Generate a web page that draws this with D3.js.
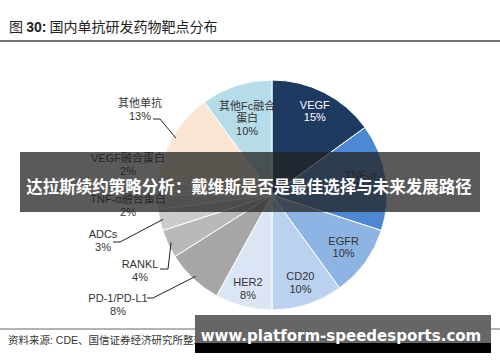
<!DOCTYPE html>
<html>
<head>
<meta charset="utf-8">
<script src="https://cdn.jsdelivr.net/npm/d3@7"></script>
<style>
  body { margin: 0; background: #fff; }
  svg { display: block; font-family: "Liberation Sans", "Noto Sans CJK SC", sans-serif; }
</style>
</head>
<body>
<div id="chart"></div>
<script>
var categories = ["VEGF", "TNF-α", "EGFR", "CD20", "HER2", "PD-1/PD-L1", "RANKL", "ADCs",
                  "TNF-α融合蛋白", "VEGF融合蛋白", "其他单抗", "其他Fc融合蛋白"];
var values = [15, 15, 10, 10, 8, 8, 4, 3, 2, 2, 13, 10];
var colors = ["#1f3a60", "#4f88d2", "#8eb4e3", "#bad1ef", "#dbe5f4", "#a6a6a6", "#b9b9b9", "#cbcbcb",
              "#d9d9d9", "#e5e5e5", "#fde5d3", "#b5dce8"];

var width = 500, height = 362;
var cx = 272, cy = 195, radius = 115;

// labels inside the pie: radius factor for each slice
var insideLabels = {
  "VEGF": { r: 0.82, lines: ["VEGF"] },
  "TNF-α": { r: 0.78, lines: ["TNF-α"] },
  "EGFR": { r: 0.77, lines: ["EGFR"] },
  "CD20": { r: 0.8, lines: ["CD20"] },
  "HER2": { r: 0.84, lines: ["HER2"] },
  "其他Fc融合蛋白": { r: 0.7, lines: ["其他Fc融合", "蛋白"] }
};
// labels outside the pie: text anchor relative to centre, leader start and elbow
var outsideLabels = {
  "其他单抗": { pos: [-132, -92], leader: [[-119, -76], [-112, -76]] },
  "VEGF融合蛋白": { pos: [-144, -37], leader: null },
  "TNF-α融合蛋白": { pos: [-144, 4], leader: null },
  "ADCs": { pos: [-169, 39], leader: [[-159, 47], [-152, 47]] },
  "RANKL": { pos: [-132, 69], leader: [[-112, 74], [-104, 74]] },
  "PD-1/PD-L1": { pos: [-154, 103], leader: [[-125, 103], [-119, 103]] }
};

var svg = d3.select("#chart").append("svg")
  .attr("width", width)
  .attr("height", height);

// title
var title = svg.append("text")
  .attr("x", 9)
  .attr("y", 32)
  .style("font-size", "14px")
  .attr("fill", "#222");
title.append("tspan").style("font-family", "Noto Sans CJK SC").text("图 ");
title.append("tspan").style("font-weight", "bold").text("30:");
title.append("tspan").style("font-family", "Noto Sans CJK SC").text("  国内单抗研发药物靶点分布");

svg.append("line")
  .attr("x1", 0).attr("x2", width)
  .attr("y1", 41).attr("y2", 41)
  .attr("stroke", "#444")
  .attr("stroke-width", 1.5);

var pie = d3.pie().sort(null).value(function(d) { return d; });
var arcs = pie(values);
var arc = d3.arc().innerRadius(0).outerRadius(radius);

var g = svg.append("g")
  .attr("transform", "translate(" + cx + "," + cy + ")");

g.selectAll(".slice")
  .data(arcs)
  .enter().append("path")
  .attr("class", "slice")
  .attr("d", arc)
  .attr("fill", function(d, i) { return colors[i]; })
  .attr("stroke", "#fff")
  .attr("stroke-width", 1);

function midPoint(d, r) {
  var a = (d.startAngle + d.endAngle) / 2;
  return [Math.sin(a) * r, -Math.cos(a) * r];
}

// inside labels
arcs.forEach(function(d, i) {
  var cfg = insideLabels[categories[i]];
  if (!cfg) return;
  var p = midPoint(d, radius * cfg.r);
  var lines = cfg.lines.concat([values[i] + "%"]);
  var lh = 12.5;
  var t = g.append("text")
    .attr("text-anchor", "middle")
    .style("font-size", "11px")
    .attr("fill", i < 1 ? "#fff" : "#333");
  lines.forEach(function(s, k) {
    t.append("tspan")
      .attr("x", p[0])
      .attr("y", p[1] + (k - (lines.length - 1) / 2) * lh + 4)
      .text(s);
  });
});

// outside labels with leader lines
arcs.forEach(function(d, i) {
  var cfg = outsideLabels[categories[i]];
  if (!cfg) return;
  var t = g.append("text")
    .attr("text-anchor", "middle")
    .style("font-size", "11px")
    .attr("fill", "#333");
  [categories[i], values[i] + "%"].forEach(function(s, k) {
    t.append("tspan")
      .attr("x", cfg.pos[0])
      .attr("y", cfg.pos[1] + k * 12.5 + 4)
      .text(s);
  });
  if (cfg.leader) {
    var pts = cfg.leader.concat([midPoint(d, radius * 0.97)]);
    g.append("path")
      .attr("d", d3.line()(pts))
      .attr("fill", "none")
      .attr("stroke", "#222")
      .attr("stroke-width", 1);
  }
});

// footer
svg.append("line")
  .attr("x1", 0).attr("x2", width)
  .attr("y1", 329).attr("y2", 329)
  .attr("stroke", "#666")
  .attr("stroke-width", 1);

svg.append("text")
  .attr("x", 8)
  .attr("y", 344)
  .style("font-size", "10.5px")
  .attr("fill", "#333")
  .text("资料来源: CDE、国信证券经济研究所整理，数据截至 2019 年 12 月");

// overlay banner
svg.append("rect")
  .attr("x", 20).attr("y", 152)
  .attr("width", 460).attr("height", 60)
  .attr("fill", "rgba(35,35,35,0.75)");

svg.append("text")
  .attr("x", 249)
  .attr("y", 193)
  .attr("text-anchor", "middle")
  .style("font-family", "Noto Sans CJK SC")
  .style("font-weight", "bold")
  .style("font-size", "16.5px")
  .attr("fill", "#fff")
  .text("达拉斯续约策略分析：戴维斯是否是最佳选择与未来发展路径");

// overlay footer box
svg.append("rect")
  .attr("x", 195).attr("y", 315)
  .attr("width", 296).attr("height", 28)
  .attr("fill", "#666");
svg.append("rect")
  .attr("x", 195).attr("y", 343)
  .attr("width", 296).attr("height", 10)
  .attr("fill", "#000");

svg.append("text")
  .attr("x", 341)
  .attr("y", 341)
  .attr("text-anchor", "middle")
  .style("font-family", "DejaVu Sans")
  .style("font-weight", "bold")
  .style("font-size", "15px")
  .attr("fill", "#fff")
  .text("www.platform-speedesports.com");
</script>
</body>
</html>
